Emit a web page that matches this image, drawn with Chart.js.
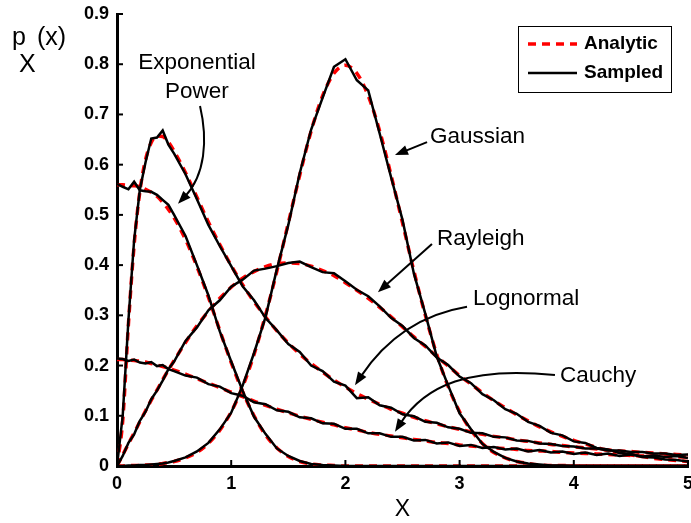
<!DOCTYPE html>
<html>
<head>
<meta charset="utf-8">
<script src="https://cdn.jsdelivr.net/npm/chart.js@4.4.1/dist/chart.umd.min.js"></script>
<style>
  html, body { margin: 0; padding: 0; background: #fff; }
</style>
</head>
<body>
<canvas id="pdfChart" width="691" height="523"></canvas>
<script>
// x grid shared by every curve
const xs = [0, 0.05, 0.1, 0.15, 0.2, 0.25, 0.3, 0.35, 0.4, 0.45, 0.5,
  0.6, 0.7, 0.8, 0.9, 1.0, 1.1, 1.2, 1.3, 1.4, 1.5,
  1.6, 1.7, 1.8, 1.9, 2.0, 2.1, 2.2, 2.3, 2.4, 2.5,
  2.6, 2.7, 2.8, 2.9, 3.0, 3.1, 3.2, 3.3, 3.4, 3.5,
  3.6, 3.7, 3.8, 3.9, 4.0, 4.1, 4.2, 4.3, 4.4, 4.5,
  4.6, 4.7, 4.8, 4.9, 5.0];

// analytic (red dashed)
const expA = [0.560, 0.560, 0.559, 0.558, 0.556, 0.551, 0.545, 0.537, 0.525, 0.511, 0.494,
  0.451, 0.397, 0.336, 0.270, 0.206, 0.148, 0.100, 0.062, 0.036, 0.019,
  0.009, 0.004, 0.002, 0.001, 0, 0, 0, 0, 0, 0,
  0, 0, 0, 0, 0, 0, 0, 0, 0, 0,
  0, 0, 0, 0, 0, 0, 0, 0, 0, 0,
  0, 0, 0, 0, 0];
const gaussA = [0, 0, 0.001, 0.001, 0.001, 0.002, 0.002, 0.003, 0.005, 0.007, 0.009,
  0.016, 0.027, 0.045, 0.071, 0.108, 0.158, 0.222, 0.300, 0.388, 0.484,
  0.579, 0.667, 0.737, 0.782, 0.798, 0.782, 0.737, 0.667, 0.579, 0.484,
  0.388, 0.300, 0.222, 0.158, 0.108, 0.071, 0.045, 0.027, 0.016, 0.009,
  0.005, 0.002, 0.001, 0.001, 0, 0, 0, 0, 0, 0,
  0, 0, 0, 0, 0];
const rayA = [0, 0.022, 0.044, 0.066, 0.088, 0.110, 0.131, 0.151, 0.172, 0.191, 0.210,
  0.246, 0.279, 0.308, 0.334, 0.356, 0.374, 0.387, 0.397, 0.403, 0.404,
  0.403, 0.398, 0.389, 0.379, 0.365, 0.350, 0.334, 0.316, 0.297, 0.277,
  0.257, 0.238, 0.218, 0.199, 0.180, 0.163, 0.146, 0.130, 0.116, 0.102,
  0.090, 0.078, 0.068, 0.059, 0.051, 0.044, 0.037, 0.031, 0.027, 0.022,
  0.019, 0.015, 0.013, 0.011, 0.009];
const lognA = [0, 0.090, 0.282, 0.440, 0.546, 0.610, 0.644, 0.657, 0.656, 0.645, 0.627,
  0.584, 0.535, 0.486, 0.441, 0.399, 0.361, 0.327, 0.297, 0.269, 0.245,
  0.223, 0.204, 0.187, 0.171, 0.157, 0.144, 0.133, 0.123, 0.113, 0.105,
  0.097, 0.090, 0.084, 0.078, 0.073, 0.068, 0.063, 0.059, 0.056, 0.052,
  0.049, 0.046, 0.043, 0.041, 0.038, 0.036, 0.034, 0.032, 0.030, 0.029,
  0.027, 0.026, 0.024, 0.023, 0.022];
const cauA = [0.212, 0.212, 0.211, 0.210, 0.209, 0.207, 0.204, 0.201, 0.198, 0.195, 0.191,
  0.183, 0.174, 0.165, 0.156, 0.147, 0.138, 0.129, 0.121, 0.113, 0.106,
  0.099, 0.093, 0.087, 0.082, 0.076, 0.072, 0.067, 0.063, 0.060, 0.056,
  0.053, 0.050, 0.047, 0.045, 0.042, 0.040, 0.038, 0.036, 0.035, 0.033,
  0.031, 0.030, 0.029, 0.027, 0.026, 0.025, 0.024, 0.023, 0.022, 0.021,
  0.020, 0.020, 0.019, 0.018, 0.018];

// sampled (black solid)
const expS = [0.562, 0.556, 0.551, 0.566, 0.549, 0.547, 0.546, 0.540, 0.530, 0.520, 0.500,
  0.458, 0.400, 0.340, 0.268, 0.208, 0.150, 0.098, 0.064, 0.035, 0.020,
  0.010, 0.004, 0.002, 0.001, 0, 0, 0, 0, 0, 0,
  0, 0, 0, 0, 0, 0, 0, 0, 0, 0,
  0, 0, 0, 0, 0, 0, 0, 0, 0, 0,
  0, 0, 0, 0, 0];
const gaussS = [0, 0, 0.001, 0.001, 0.002, 0.002, 0.003, 0.004, 0.005, 0.007, 0.010,
  0.017, 0.029, 0.046, 0.073, 0.106, 0.160, 0.225, 0.296, 0.392, 0.480,
  0.583, 0.670, 0.733, 0.795, 0.810, 0.768, 0.748, 0.662, 0.575, 0.490,
  0.383, 0.303, 0.218, 0.160, 0.105, 0.073, 0.044, 0.028, 0.016, 0.009,
  0.005, 0.003, 0.001, 0.001, 0, 0, 0, 0, 0, 0,
  0, 0, 0, 0, 0];
const rayS = [0, 0.020, 0.046, 0.063, 0.090, 0.108, 0.133, 0.150, 0.170, 0.193, 0.208,
  0.249, 0.276, 0.310, 0.330, 0.357, 0.371, 0.389, 0.393, 0.398, 0.404,
  0.407, 0.396, 0.386, 0.384, 0.368, 0.351, 0.338, 0.318, 0.295, 0.279,
  0.255, 0.240, 0.216, 0.201, 0.178, 0.165, 0.143, 0.131, 0.113, 0.104,
  0.088, 0.080, 0.066, 0.061, 0.049, 0.046, 0.036, 0.033, 0.026, 0.024,
  0.018, 0.017, 0.013, 0.012, 0.009];
const lognS = [0, 0.100, 0.290, 0.450, 0.550, 0.605, 0.652, 0.654, 0.668, 0.640, 0.622,
  0.581, 0.531, 0.480, 0.438, 0.398, 0.358, 0.330, 0.295, 0.270, 0.243,
  0.227, 0.200, 0.189, 0.168, 0.160, 0.135, 0.137, 0.121, 0.116, 0.103,
  0.099, 0.088, 0.086, 0.077, 0.074, 0.066, 0.065, 0.058, 0.057, 0.051,
  0.050, 0.045, 0.044, 0.040, 0.039, 0.035, 0.035, 0.031, 0.031, 0.028,
  0.028, 0.025, 0.025, 0.022, 0.023];
const cauS = [0.214, 0.213, 0.209, 0.212, 0.206, 0.204, 0.207, 0.199, 0.201, 0.193, 0.189,
  0.180, 0.176, 0.163, 0.158, 0.145, 0.140, 0.127, 0.123, 0.111, 0.108,
  0.097, 0.095, 0.085, 0.084, 0.074, 0.074, 0.065, 0.065, 0.058, 0.058,
  0.051, 0.052, 0.045, 0.047, 0.040, 0.042, 0.036, 0.038, 0.033, 0.035,
  0.029, 0.032, 0.027, 0.029, 0.024, 0.027, 0.022, 0.025, 0.020, 0.023,
  0.019, 0.021, 0.018, 0.020, 0.016];

const xTicks = [0, 1, 2, 3, 4, 5];
const yTicks = [0, 0.1, 0.2, 0.3, 0.4, 0.5, 0.6, 0.7, 0.8, 0.9];
const legendLabels = ['Analytic', 'Sampled'];

// curve labels, anchored in data units
const notes = [
  { lines: ['Exponential', 'Power'], at: [0.70, 0.802], step: -0.057, align: 'center',
    path: [[0.727, 0.717], [0.797, 0.649], [0.771, 0.579], [0.534, 0.522]] },
  { lines: ['Gaussian'], at: [2.741, 0.655], align: 'left',
    path: [[2.715, 0.645], [2.434, 0.619]] },
  { lines: ['Rayleigh'], at: [2.802, 0.452], align: 'left',
    path: [[2.758, 0.442], [2.285, 0.346]] },
  { lines: ['Lognormal'], at: [3.117, 0.333], align: 'left',
    path: [[3.065, 0.317], [2.478, 0.295], [2.084, 0.161]] },
  { lines: ['Cauchy'], at: [3.879, 0.179], align: 'left',
    path: [[3.835, 0.181], [3.091, 0.199], [2.697, 0.161], [2.434, 0.068]] }
];

const FONT = '"Liberation Sans", Arial, Helvetica, sans-serif';
const pts = ys => ys.map((v, i) => ({ x: xs[i], y: v }));

const sampled = [expS, gaussS, rayS, lognS, cauS].map((ys, i) => ({
  label: i === 0 ? legendLabels[1] : '',
  data: pts(ys),
  borderColor: '#000',
  borderWidth: 2.5,
  pointRadius: 0,
  tension: 0,
  fill: false
}));
const analytic = [expA, gaussA, rayA, lognA, cauA].map((ys, i) => ({
  label: i === 0 ? legendLabels[0] : '',
  data: pts(ys),
  borderColor: '#ff0000',
  borderWidth: 3.5,
  borderDash: [8, 6],
  pointRadius: 0,
  cubicInterpolationMode: 'monotone',
  fill: false
}));

function arrowHead(ctx, fx, fy, tx, ty) {
  const ang = Math.atan2(ty - fy, tx - fx);
  const len = 13, half = 5;
  ctx.beginPath();
  ctx.moveTo(tx, ty);
  ctx.lineTo(tx - len * Math.cos(ang) + half * Math.sin(ang), ty - len * Math.sin(ang) - half * Math.cos(ang));
  ctx.lineTo(tx - len * Math.cos(ang) - half * Math.sin(ang), ty - len * Math.sin(ang) + half * Math.cos(ang));
  ctx.closePath();
  ctx.fill();
}

const overlay = {
  id: 'overlay',
  afterDatasetsDraw(chart) {
    const { ctx, chartArea: a, scales: { x, y } } = chart;
    ctx.save();
    ctx.strokeStyle = '#000';
    ctx.fillStyle = '#000';

    // inward tick marks
    ctx.lineWidth = 2;
    xTicks.forEach(v => {
      const px = x.getPixelForValue(v);
      ctx.beginPath(); ctx.moveTo(px, a.bottom); ctx.lineTo(px, a.bottom - 6); ctx.stroke();
    });
    yTicks.forEach(v => {
      const py = y.getPixelForValue(v);
      ctx.beginPath(); ctx.moveTo(a.left, py); ctx.lineTo(a.left + 6, py); ctx.stroke();
    });

    // labels and arrows
    ctx.font = '22.5px ' + FONT;
    ctx.textBaseline = 'middle';
    notes.forEach(n => {
      ctx.textAlign = n.align;
      n.lines.forEach((t, k) => {
        ctx.fillText(t, x.getPixelForValue(n.at[0]), y.getPixelForValue(n.at[1] + (n.step || 0) * k));
      });
      const p = n.path.map(q => [x.getPixelForValue(q[0]), y.getPixelForValue(q[1])]);
      const last = p[p.length - 1], prev = p[p.length - 2];
      const ang = Math.atan2(last[1] - prev[1], last[0] - prev[0]);
      const end = [last[0] - 10 * Math.cos(ang), last[1] - 10 * Math.sin(ang)];
      ctx.lineWidth = 2;
      ctx.beginPath();
      ctx.moveTo(p[0][0], p[0][1]);
      if (p.length === 2) ctx.lineTo(end[0], end[1]);
      else if (p.length === 3) ctx.quadraticCurveTo(p[1][0], p[1][1], end[0], end[1]);
      else ctx.bezierCurveTo(p[1][0], p[1][1], p[2][0], p[2][1], end[0], end[1]);
      ctx.stroke();
      arrowHead(ctx, prev[0], prev[1], last[0], last[1]);
    });

    // legend box (top right)
    const bx = a.right - 170, by = a.top + 12, bw = 153, bh = 66;
    ctx.fillStyle = '#fff';
    ctx.fillRect(bx, by, bw, bh);
    ctx.lineWidth = 1;
    ctx.strokeRect(bx + 0.5, by + 0.5, bw, bh);
    ctx.lineWidth = 3.5;
    ctx.strokeStyle = '#ff0000';
    ctx.setLineDash([8, 6]);
    ctx.beginPath(); ctx.moveTo(bx + 10, by + 18); ctx.lineTo(bx + 59, by + 18); ctx.stroke();
    ctx.setLineDash([]);
    ctx.strokeStyle = '#000';
    ctx.lineWidth = 2.5;
    ctx.beginPath(); ctx.moveTo(bx + 10, by + 47); ctx.lineTo(bx + 59, by + 47); ctx.stroke();
    ctx.fillStyle = '#000';
    ctx.font = 'bold 19px ' + FONT;
    ctx.textAlign = 'left';
    ctx.fillText(legendLabels[0], bx + 66, by + 18);
    ctx.fillText(legendLabels[1], bx + 66, by + 47);

    // axis titles
    ctx.font = '23px ' + FONT;
    ctx.textAlign = 'center';
    ctx.fillText('X', (a.left + a.right) / 2, 510);
    ctx.font = '25px ' + FONT;
    ctx.textAlign = 'left';
    ctx.textBaseline = 'alphabetic';
    ctx.fillText('p', 12, 45);
    ctx.fillText('X', 19, 72);
    ctx.fillText('(x)', 37, 45);
    ctx.restore();
  }
};

new Chart(document.getElementById('pdfChart'), {
  type: 'line',
  data: { datasets: sampled.concat(analytic) },
  options: {
    responsive: false,
    animation: false,
    devicePixelRatio: 1,
    layout: { padding: { left: 0, right: 3, top: 14, bottom: 0 } },
    plugins: { legend: { display: false }, tooltip: { enabled: false } },
    scales: {
      x: {
        type: 'linear', min: 0, max: 5,
        grid: { display: false, drawTicks: false },
        border: { display: true, color: '#000', width: 3 },
        ticks: { stepSize: 1, maxRotation: 0, padding: 7, color: '#000',
          font: { family: FONT, size: 18, weight: 'bold' } },
        afterFit: s => { s.height = 57; s.paddingLeft = 0; s.paddingRight = 0; }
      },
      y: {
        type: 'linear', min: 0, max: 0.9,
        grid: { display: false, drawTicks: false },
        border: { display: true, color: '#000', width: 3 },
        ticks: { stepSize: 0.1, padding: 8, color: '#000',
          font: { family: FONT, size: 18, weight: 'bold' } },
        afterFit: s => { s.width = 117; s.paddingTop = 0; s.paddingBottom = 0; }
      }
    }
  },
  plugins: [overlay]
});
</script>
</body>
</html>
